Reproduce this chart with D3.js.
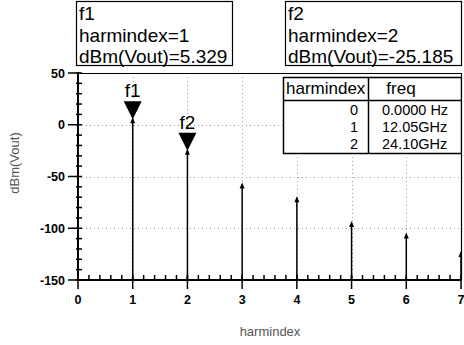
<!DOCTYPE html>
<html><head><meta charset="utf-8">
<script src="https://cdn.jsdelivr.net/npm/d3@7"></script>
<style>
html,body{margin:0;padding:0;background:#fff;}
svg{display:block;font-family:"Liberation Sans",Arial,sans-serif;}
</style></head>
<body>
<svg id="c" width="464" height="345"></svg>
<script>
// ---- data ----
const harmindex = [0, 1, 2, 3, 4, 5, 6, 7];
const dBmVout = [-149, 5.329, -25.185, -57.7, -71, -95, -106, -124];
const yTicks = [-150, -100, -50, 0, 50];
const xTicks = [0, 1, 2, 3, 4, 5, 6, 7];
const markerNames = ["f1", "f2"];
const markerIndex = [1, 2];
const tableHarm = [0, 1, 2];
const tableFreq = ["0.0000 Hz", "12.05GHz", "24.10GHz"];

const svg = d3.select("#c");
const L = 78, R = 461, T = 73, B = 280;
const x = d3.scaleLinear().domain([0, 7]).range([L, R]);
const y = d3.scaleLinear().domain([-150, 50]).range([B, T]);

// clip
svg.append("defs").append("clipPath").attr("id", "plot")
  .append("rect").attr("x", L).attr("y", T).attr("width", R - L).attr("height", B - T);

// grid
const grid = svg.append("g").attr("stroke", "#9a9a9a").attr("stroke-width", 1).attr("stroke-dasharray", "1,3");
grid.selectAll(".gy").data(yTicks.filter(d => d > -150 && d < 50)).join("line")
  .attr("x1", L).attr("x2", R).attr("y1", d => Math.round(y(d)) + 0.5).attr("y2", d => Math.round(y(d)) + 0.5);
grid.selectAll(".gx").data(xTicks.filter(d => d > 0 && d < 7)).join("line")
  .attr("y1", T).attr("y2", B).attr("x1", d => Math.round(x(d)) + 0.5).attr("x2", d => Math.round(x(d)) + 0.5);

// frame top/right
svg.append("path").attr("d", `M${L},${T + 0.5}H${R + 0.5}V${B}`)
  .attr("fill", "none").attr("stroke", "#000").attr("stroke-width", 1.2);

// stems
const pts = harmindex.map((h, i) => ({h, v: dBmVout[i]}));
const gp = svg.append("g").attr("clip-path", "url(#plot)");
gp.selectAll(".stem").data(pts).join("line")
  .attr("x1", d => x(d.h)).attr("x2", d => x(d.h))
  .attr("y1", y(-150)).attr("y2", d => y(d.v))
  .attr("stroke", "#000").attr("stroke-width", 1.5);
gp.selectAll(".tip").data(pts).join("path")
  .attr("d", d => { const px = x(d.h), py = y(d.v); return `M${px},${py - 2}L${px - 2.5},${py + 4}L${px + 2.5},${py + 4}Z`; })
  .attr("fill", "#000");

// y axis
const yAxis = svg.append("g");
yAxis.append("line").attr("x1", L).attr("x2", L).attr("y1", T - 1).attr("y2", B + 1).attr("stroke", "#000").attr("stroke-width", 2);
const yMinor = d3.range(-150, 51, 10);
yAxis.selectAll(".ym").data(yMinor).join("line")
  .attr("x1", L - 2).attr("x2", L + 4).attr("y1", d => y(d)).attr("y2", d => y(d))
  .attr("stroke", "#000").attr("stroke-width", 1.5);
yAxis.selectAll(".yM").data(yTicks).join("line")
  .attr("x1", L - 10).attr("x2", L).attr("y1", d => y(d)).attr("y2", d => y(d))
  .attr("stroke", "#000").attr("stroke-width", 1.5);
yAxis.selectAll(".yl").data(yTicks).join("text")
  .attr("x", L - 13).attr("y", d => y(d) + 4.5).attr("text-anchor", "end")
  .attr("font-size", 12.5).attr("font-weight", "bold").text(d => d);

// x axis
const xAxis = svg.append("g");
xAxis.append("line").attr("x1", L - 1).attr("x2", R).attr("y1", B).attr("y2", B).attr("stroke", "#000").attr("stroke-width", 2);
const xMinor = d3.range(0, 7.001, 0.2);
xAxis.selectAll(".xm").data(xMinor).join("line")
  .attr("x1", d => x(d)).attr("x2", d => x(d)).attr("y1", B - 5).attr("y2", B + 1)
  .attr("stroke", "#000").attr("stroke-width", 1.5);
xAxis.selectAll(".xM").data(xTicks).join("line")
  .attr("x1", d => x(d)).attr("x2", d => x(d)).attr("y1", B - 5).attr("y2", B + 9)
  .attr("stroke", "#000").attr("stroke-width", 1.5);
xAxis.selectAll(".xl").data(xTicks).join("text")
  .attr("x", d => x(d)).attr("y", B + 24).attr("text-anchor", "middle")
  .attr("font-size", 12.5).attr("font-weight", "bold").text(d => d);

// axis titles
svg.append("text").attr("transform", `translate(19,163) rotate(-90)`).attr("text-anchor", "middle")
  .attr("font-size", 13).attr("fill", "#555").text("dBm(Vout)");
svg.append("text").attr("x", 270).attr("y", 336).attr("text-anchor", "middle")
  .attr("font-size", 13).attr("fill", "#555").text("harmindex");

// markers
markerNames.forEach((name, i) => {
  const h = markerIndex[i], v = dBmVout[harmindex.indexOf(h)];
  const px = x(h), py = y(v);
  svg.append("path").attr("d", `M${px},${py}L${px - 9},${py - 18}L${px + 9},${py - 18}Z`).attr("fill", "#000");
  svg.append("text").attr("x", px).attr("y", py - 22).attr("text-anchor", "middle")
    .attr("font-size", 19).text(name);
});

// marker readout boxes
const boxes = [{x0: 76, x1: 232}, {x0: 285, x1: 461}];
markerNames.forEach((name, i) => {
  const h = markerIndex[i], v = dBmVout[harmindex.indexOf(h)];
  const b = boxes[i];
  svg.append("rect").attr("x", b.x0 + 0.5).attr("y", 1.5).attr("width", b.x1 - b.x0).attr("height", 64)
    .attr("fill", "#fff").attr("stroke", "#000").attr("stroke-width", 1.2);
  const lines = [name, `harmindex=${h}`, `dBm(Vout)=${v.toFixed(3)}`];
  svg.selectAll(null).data(lines).join("text")
    .attr("x", b.x0 + 3).attr("y", (d, k) => 20 + k * 21.5)
    .attr("font-size", 19).text(d => d);
});

// table
const tg = svg.append("g").attr("clip-path", "url(#plot)");
const tx0 = 283, tx1 = 368, tx2 = 461, ty0 = 77, ty1 = 100, ty2 = 153;
tg.append("rect").attr("x", tx0 + 0.5).attr("y", ty0 + 0.5).attr("width", tx2 - tx0).attr("height", ty2 - ty0)
  .attr("fill", "#fff").attr("stroke", "#000").attr("stroke-width", 1.5);
tg.append("line").attr("x1", tx1 + 0.5).attr("x2", tx1 + 0.5).attr("y1", ty0).attr("y2", ty2).attr("stroke", "#000").attr("stroke-width", 1.5);
tg.append("line").attr("x1", tx0).attr("x2", tx2).attr("y1", ty1 + 0.5).attr("y2", ty1 + 0.5).attr("stroke", "#000").attr("stroke-width", 1.5);
tg.append("text").attr("x", tx0 + 3).attr("y", 94).attr("font-size", 17).text("harmindex");
tg.append("text").attr("x", 401).attr("y", 94).attr("text-anchor", "middle").attr("font-size", 17).text("freq");
tg.selectAll(".th").data(tableHarm).join("text")
  .attr("x", 358).attr("y", (d, k) => 115 + k * 17).attr("text-anchor", "end").attr("font-size", 14.5).text(d => d);
tg.selectAll(".tf").data(tableFreq).join("text")
  .attr("x", 382).attr("y", (d, k) => 115 + k * 17).attr("font-size", 14.5).text(d => d);
</script>
</body></html>
